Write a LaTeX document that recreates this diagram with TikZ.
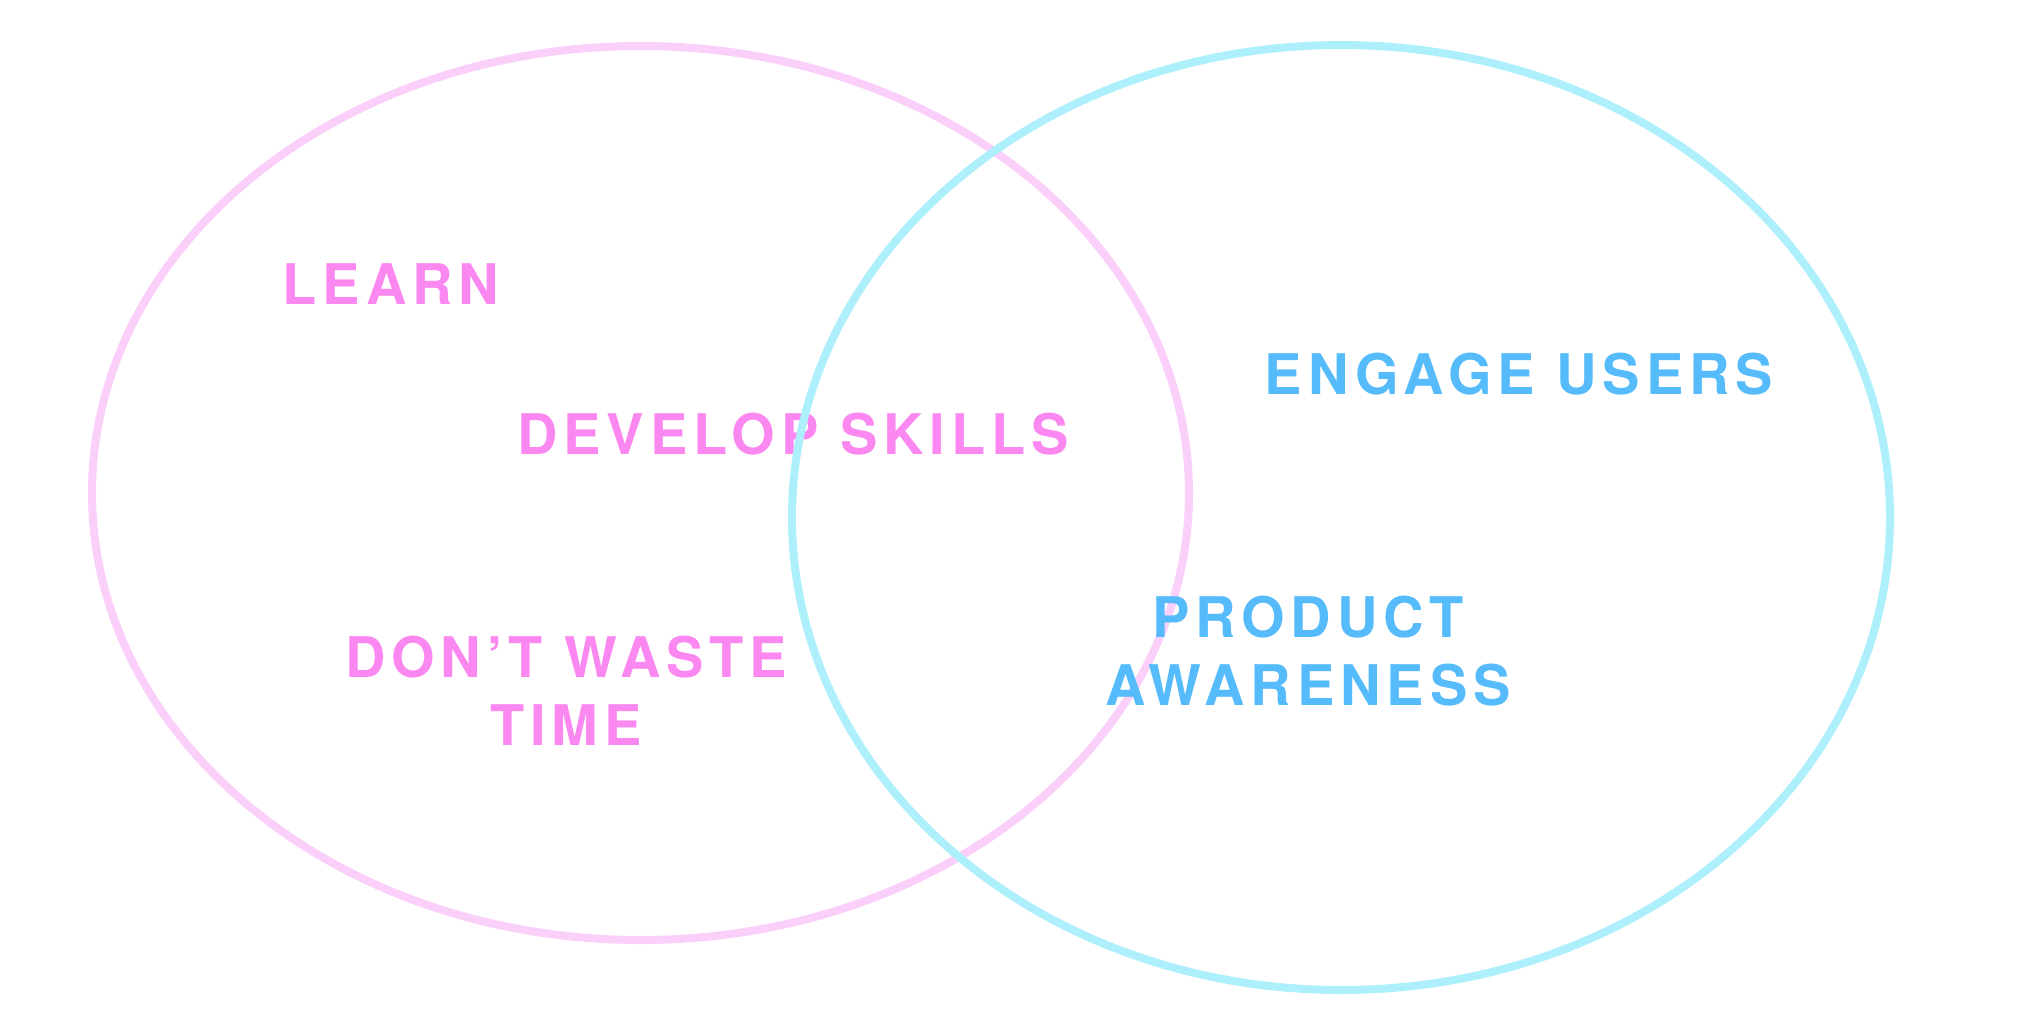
\documentclass[tikz,border=0pt]{standalone}
\usepackage{fontspec}
\setmainfont{TeX Gyre Heros}[LetterSpace=10.5]
\definecolor{pinkline}{HTML}{FAD0FA}
\definecolor{pinktext}{HTML}{FB88F0}
\definecolor{blueline}{HTML}{AEEFFC}
\definecolor{bluetext}{HTML}{55BBFB}
\begin{document}
\begin{tikzpicture}[x=0.5pt,y=-0.5pt,
  ring/.style={line width=4pt},
  word/.style={inner sep=0pt,align=center,font=\fontsize{28}{34}\selectfont\bfseries}]
\useasboundingbox (0,0) rectangle (2030,1025);
\draw[ring,pinkline] (640.5,493) ellipse [x radius=274.25pt, y radius=223.5pt];
\node[word,pinktext] (learn) at (391,284) {LEARN};
\node[word,pinktext] (skills) at (793,434) {DEVELOP SKILLS};
\node[word,pinktext] (time) at (566,691) {DON’T WASTE\\TIME};
\draw[ring,blueline] (1341,517.5) ellipse [x radius=274.5pt, y radius=236.25pt];
\node[word,bluetext] (engage) at (1519,374) {ENGAGE USERS};
\node[word,bluetext] (product) at (1308,651) {PRODUCT\\AWARENESS};
\end{tikzpicture}
\end{document}
